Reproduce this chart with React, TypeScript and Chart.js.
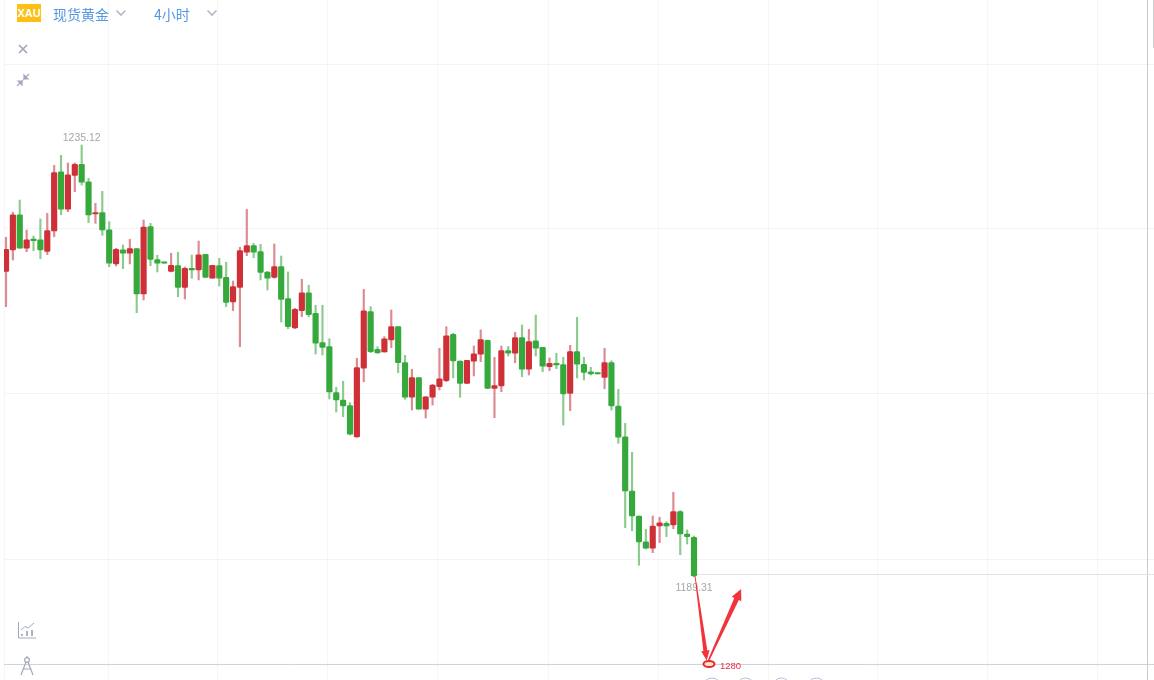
import React, { useEffect, useRef } from "react";
import { Chart, registerables } from "chart.js";

Chart.register(...registerables);

const opens = [1221.73,1223.99,1227.73,1224.17,1225.08,1225.08,1223.85,1226.0,1232.29,1228.31,1231.91,1233.08,1231.23,1227.81,1227.95,1226.14,1222.51,1224.02,1223.64,1224.13,1219.32,1226.46,1222.96,1222.72,1221.73,1222.33,1220.03,1222.05,1221.87,1223.53,1220.99,1222.33,1221.09,1218.48,1220.03,1223.75,1224.45,1223.81,1221.66,1221.09,1222.22,1218.83,1215.72,1217.55,1219.46,1217.28,1214.16,1213.74,1208.86,1208.08,1207.48,1204.16,1211.45,1217.45,1213.46,1213.17,1214.45,1215.86,1212.04,1208.37,1210.45,1207.1,1208.37,1209.49,1210.13,1215.05,1212.22,1209.85,1212.19,1212.93,1214.41,1209.32,1209.57,1213.33,1213.04,1214.69,1211.34,1214.37,1213.67,1211.62,1211.93,1211.83,1208.79,1213.21,1211.87,1211.08,1210.98,1210.49,1212.04,1207.45,1204.19,1198.43,1195.78,1193.03,1192.36,1194.72,1195.01,1194.83,1196.24,1193.87,1193.53];
const closes = [1224.06,1227.73,1224.17,1225.08,1224.98,1223.99,1226.04,1232.19,1228.31,1231.97,1233.08,1231.17,1227.7,1227.95,1226.11,1222.58,1224.06,1223.64,1224.13,1219.32,1226.43,1223.0,1222.58,1222.58,1222.37,1220.03,1222.05,1221.87,1223.49,1221.09,1222.37,1220.99,1218.44,1220.1,1223.92,1224.45,1223.75,1221.62,1220.99,1222.22,1218.76,1215.86,1217.7,1219.46,1217.13,1214.1,1213.67,1208.93,1208.08,1207.45,1204.45,1211.51,1217.55,1213.21,1213.07,1214.58,1215.86,1212.04,1208.37,1210.45,1207.1,1208.43,1209.67,1210.34,1214.9,1212.22,1209.85,1212.29,1212.99,1214.48,1209.32,1209.6,1213.31,1213.05,1214.69,1211.34,1214.27,1213.57,1211.66,1211.98,1211.8,1208.72,1213.21,1211.87,1211.02,1210.84,1210.84,1212.04,1207.45,1204.13,1198.43,1195.78,1193.03,1192.36,1194.72,1195.07,1194.72,1196.24,1193.87,1193.59,1189.42];
const highs = [1225.34,1227.99,1229.29,1226.11,1225.47,1227.28,1227.88,1232.97,1234.03,1233.22,1233.22,1235.12,1231.59,1228.94,1230.21,1226.99,1224.17,1224.52,1225.12,1224.13,1227.17,1226.82,1223.43,1222.72,1223.64,1223.75,1222.19,1223.46,1224.94,1223.53,1222.37,1223.11,1222.69,1220.7,1224.28,1228.31,1224.7,1224.59,1221.73,1224.63,1223.35,1221.66,1217.81,1220.88,1220.25,1218.13,1218.13,1214.58,1209.43,1210.07,1207.8,1212.51,1219.82,1217.98,1213.74,1214.8,1217.63,1215.86,1212.82,1211.34,1210.45,1208.43,1209.75,1213.57,1215.86,1215.16,1212.22,1212.29,1213.81,1215.51,1214.45,1212.61,1213.81,1213.76,1215.27,1216.04,1215.58,1217.1,1213.67,1212.54,1213.04,1212.61,1213.88,1216.85,1212.61,1211.55,1210.98,1213.57,1212.25,1209.22,1205.61,1202.54,1195.78,1194.37,1195.78,1195.65,1195.18,1198.3,1196.35,1194.3,1193.66];
const lows = [1217.98,1222.93,1224.17,1223.81,1223.92,1223.07,1223.49,1225.4,1227.73,1228.05,1230.17,1230.88,1226.89,1226.82,1225.55,1222.22,1222.29,1222.01,1222.51,1217.34,1218.69,1222.33,1221.66,1222.58,1221.66,1219.04,1218.79,1220.99,1220.81,1221.09,1220.99,1220.17,1217.98,1217.55,1213.74,1223.39,1223.17,1220.81,1219.75,1220.99,1216.35,1215.64,1215.64,1216.92,1216.92,1212.96,1212.86,1208.19,1206.81,1206.31,1204.37,1204.13,1210.02,1213.1,1213.04,1213.14,1213.63,1210.98,1208.16,1207.02,1207.1,1206.18,1207.55,1209.14,1210.02,1210.42,1208.37,1209.85,1210.63,1212.15,1209.28,1206.21,1208.96,1212.75,1212.04,1210.55,1210.73,1212.75,1211.08,1211.19,1211.4,1205.43,1206.95,1210.42,1210.2,1210.73,1210.84,1209.28,1207.02,1203.49,1194.54,1194.22,1190.56,1192.28,1191.89,1192.95,1193.59,1194.44,1191.68,1192.81,1189.31];

const candleIndex = opens.map((_, i) => i);

const priceMin = 1178.39;
const priceMax = 1250.5;
const indexMin = -0.29;
const indexMax = 166.86;
const priceGrid = [1243.71, 1226.22, 1208.72, 1191.22];
const indexGrid = [-0.29, 14.83, 30.81, 46.8, 62.79, 78.78, 94.77, 110.76, 126.74, 142.73, 158.72];

const lastPrice = 1189.58;
const baselinePrice = 1180.04;
const rightEdgeIndex = 165.92;

const highLabel = "1235.12";
const lowLabel = "1189.31";
const targetLabel = "1280";
const targetPoint = { x: 102.18, y: 1180.09 };
const arrowDown = { from: { x: 100.15, y: 1189.42 }, to: { x: 101.85, y: 1180.45 } };
const arrowUp = { from: { x: 102.1, y: 1180.45 }, to: { x: 106.85, y: 1188.04 } };
const footerMarks = [102.6, 107.5, 112.7, 117.8];

const RED = "#cf3037";
const GREEN = "#36a93c";
const isUp = (i: number) => closes[i] >= opens[i];

function wedgeArrow(ctx: CanvasRenderingContext2D, x0: number, y0: number, x1: number, y1: number, startWidth: number, endWidth: number, headLen: number, headWidth: number) {
  const dx = x1 - x0;
  const dy = y1 - y0;
  const len = Math.hypot(dx, dy);
  const ux = dx / len;
  const uy = dy / len;
  const nx = -uy;
  const ny = ux;
  const bx = x1 - ux * headLen;
  const by = y1 - uy * headLen;
  ctx.beginPath();
  ctx.moveTo(x0 + (nx * startWidth) / 2, y0 + (ny * startWidth) / 2);
  ctx.lineTo(bx + (nx * endWidth) / 2, by + (ny * endWidth) / 2);
  ctx.lineTo(bx + (nx * headWidth) / 2, by + (ny * headWidth) / 2);
  ctx.lineTo(x1, y1);
  ctx.lineTo(bx - (nx * headWidth) / 2, by - (ny * headWidth) / 2);
  ctx.lineTo(bx - (nx * endWidth) / 2, by - (ny * endWidth) / 2);
  ctx.lineTo(x0 - (nx * startWidth) / 2, y0 - (ny * startWidth) / 2);
  ctx.closePath();
  ctx.fill();
}

const annotationPlugin = {
  id: "annotations",
  afterDraw(chart: any) {
    const { ctx, scales } = chart;
    const px = (v: number) => scales.x.getPixelForValue(v);
    const py = (v: number) => scales.y.getPixelForValue(v);
    ctx.save();
    ctx.font = '10.5px "Liberation Sans", Arial, sans-serif';
    ctx.fillStyle = "#a8a8a8";
    ctx.textAlign = "center";
    ctx.textBaseline = "middle";
    const hi = highs.indexOf(Math.max(...highs));
    const lo = lows.indexOf(Math.min(...lows));
    ctx.fillText(highLabel, px(hi), py(highs[hi]) - 6.5);
    ctx.fillText(lowLabel, px(lo), py(lows[lo]) + 11.5);

    ctx.fillStyle = "#f0343c";
    wedgeArrow(ctx, px(arrowDown.from.x), py(arrowDown.from.y), px(arrowDown.to.x), py(arrowDown.to.y), 0.8, 4, 10, 8.5);
    wedgeArrow(ctx, px(arrowUp.from.x), py(arrowUp.from.y), px(arrowUp.to.x), py(arrowUp.to.y), 1.5, 5, 11, 10.5);

    ctx.strokeStyle = "#e8262e";
    ctx.lineWidth = 2;
    ctx.fillStyle = "rgba(255,225,200,0.9)";
    ctx.beginPath();
    ctx.ellipse(px(targetPoint.x), py(targetPoint.y), 5.5, 3, 0, 0, Math.PI * 2);
    ctx.fill();
    ctx.stroke();

    ctx.fillStyle = "#e2343a";
    ctx.font = '9.5px "Liberation Sans", Arial, sans-serif';
    ctx.textAlign = "left";
    ctx.fillText(targetLabel, px(targetPoint.x) + 11, py(targetPoint.y) + 2.5);

    ctx.strokeStyle = "#b9bdd0";
    ctx.lineWidth = 1;
    footerMarks.forEach((m) => {
      ctx.beginPath();
      ctx.arc(px(m), 687, 9, 0, Math.PI * 2);
      ctx.stroke();
    });
    ctx.restore();
  },
};

const Chevron = ({ x }: { x: number }) => (
  <svg style={{ position: "absolute", left: x, top: 9, width: 12, height: 8 }} viewBox="0 0 12 8">
    <path d="M1.5 1.5 L6 6 L10.5 1.5" fill="none" stroke="#b4b8c6" strokeWidth="1.6" />
  </svg>
);

const labelStyle: React.CSSProperties = {
  position: "absolute",
  top: 4,
  fontFamily: '"Noto Sans CJK SC", sans-serif',
  fontSize: 14,
  lineHeight: "20px",
  color: "#5597e0",
  whiteSpace: "nowrap",
};

export default function App() {
  const ref = useRef<HTMLCanvasElement | null>(null);

  useEffect(() => {
    document.body.style.margin = "0";
    document.body.style.background = "#fff";
    const chart = new Chart(ref.current as HTMLCanvasElement, {
      type: "bar",
      data: {
        datasets: [
          {
            type: "bar",
            label: "body",
            order: 1,
            data: candleIndex.map((i) => ({ x: i, y: [opens[i], closes[i]] })),
            backgroundColor: candleIndex.map((i) => (isUp(i) ? RED : GREEN)),
            barThickness: 5.5,
            grouped: false,
            borderRadius: 1.2,
            borderSkipped: false,
            minBarLength: 1.5,
          },
          {
            type: "bar",
            label: "wick",
            order: 2,
            data: candleIndex.map((i) => ({ x: i, y: [lows[i], highs[i]] })),
            backgroundColor: candleIndex.map((i) => (isUp(i) ? "#dd8a90" : "#8ccb8e")),
            barThickness: 1.5,
            grouped: false,
            borderSkipped: false,
          },
          {
            type: "line",
            label: "last",
            order: 3,
            data: [
              { x: candleIndex[candleIndex.length - 1], y: lastPrice },
              { x: indexMax, y: lastPrice },
            ],
            borderColor: "#e2e2ee",
            borderWidth: 1,
            pointRadius: 0,
          },
          {
            type: "line",
            label: "baseline",
            order: 3,
            data: [
              { x: indexMin, y: baselinePrice },
              { x: indexMax, y: baselinePrice },
            ],
            borderColor: "#cfcfd6",
            borderWidth: 1,
            pointRadius: 0,
          },
          {
            type: "line",
            label: "edge",
            order: 3,
            data: [
              { x: rightEdgeIndex, y: priceMin },
              { x: rightEdgeIndex, y: priceMax },
            ],
            borderColor: "#c9c9cd",
            borderWidth: 1,
            pointRadius: 0,
          },
        ],
      } as any,
      options: {
        responsive: false,
        animation: false,
        devicePixelRatio: 1,
        layout: { padding: { left: 4, right: 0, top: 0, bottom: 0 } },
        plugins: { legend: { display: false }, tooltip: { enabled: false } },
        scales: {
          x: {
            type: "linear",
            offset: false,
            min: indexMin,
            max: indexMax,
            afterBuildTicks: (s: any) => {
              s.ticks = indexGrid.map((v) => ({ value: v }));
            },
            ticks: { display: false },
            border: { display: false },
            grid: { color: "#f6f6f8", drawTicks: false, offset: false },
          },
          y: {
            type: "linear",
            min: priceMin,
            max: priceMax,
            afterBuildTicks: (s: any) => {
              s.ticks = priceGrid.map((v) => ({ value: v }));
            },
            ticks: { display: false },
            border: { display: false },
            grid: { color: "#f3f3f5", drawTicks: false },
          },
        },
      } as any,
      plugins: [annotationPlugin],
    });
    return () => chart.destroy();
  }, []);

  return (
    <div style={{ position: "fixed", left: 0, top: 0, width: 1154, height: 680, overflow: "hidden", background: "#fff" }}>
      <canvas ref={ref} width={1154} height={680} style={{ position: "absolute", left: 0, top: 0, display: "block" }} />
      <div
        style={{
          position: "absolute",
          left: 17,
          top: 4,
          width: 24,
          height: 17.5,
          background: "#fdbf14",
          color: "#fff",
          fontFamily: '"Liberation Sans", Arial, sans-serif',
          fontSize: 11,
          fontWeight: 700,
          lineHeight: "18px",
          textAlign: "center",
          overflow: "hidden",
        }}
      >
        XAU
      </div>
      <div style={{ ...labelStyle, left: 53 }}>现货黄金</div>
      <Chevron x={115} />
      <div style={{ ...labelStyle, left: 154 }}>4小时</div>
      <Chevron x={206} />
      <svg style={{ position: "absolute", left: 17, top: 43, width: 12, height: 12 }} viewBox="0 0 12 12">
        <path d="M2 2 L10 10 M10 2 L2 10" stroke="#a3a7bc" strokeWidth="1.7" />
      </svg>
      <svg style={{ position: "absolute", left: 15, top: 72, width: 16, height: 16 }} viewBox="0 0 16 16">
        <path d="M9 7 L14 2 M9 7 V3 L11 5 Z M9 7 H13 L11 5 Z" stroke="#a3a7bc" strokeWidth="1.2" fill="#a3a7bc" />
        <path d="M7 9 L2 14 M7 9 V13 L5 11 Z M7 9 H3 L5 11 Z" stroke="#a3a7bc" strokeWidth="1.2" fill="#a3a7bc" />
      </svg>
      <svg style={{ position: "absolute", left: 17, top: 620, width: 20, height: 20 }} viewBox="0 0 20 20" fill="none">
        <path d="M1.5 2 V18 H19" stroke="#a5a9bd" strokeWidth="1" />
        <path d="M4 10 L8 6.5 L11 8 L17 3" stroke="#a5a9bd" strokeWidth="1" />
        <path d="M5 14 V16 M10 11 V16 M15 10 V16" stroke="#a5a9bd" strokeWidth="1.8" />
      </svg>
      <svg style={{ position: "absolute", left: 19, top: 655, width: 16, height: 22 }} viewBox="0 0 16 22" fill="none">
        <circle cx="8" cy="5" r="2.4" stroke="#a5a9bd" strokeWidth="1.2" />
        <path d="M7 7 L2 20 M9 7 L14 20 M3.5 14 H12.5 M8 1 V3" stroke="#a5a9bd" strokeWidth="1.2" />
      </svg>
      <div style={{ position: "absolute", left: 1153, top: 0, width: 1, height: 48, background: "#cfcfd2" }} />
    </div>
  );
}
